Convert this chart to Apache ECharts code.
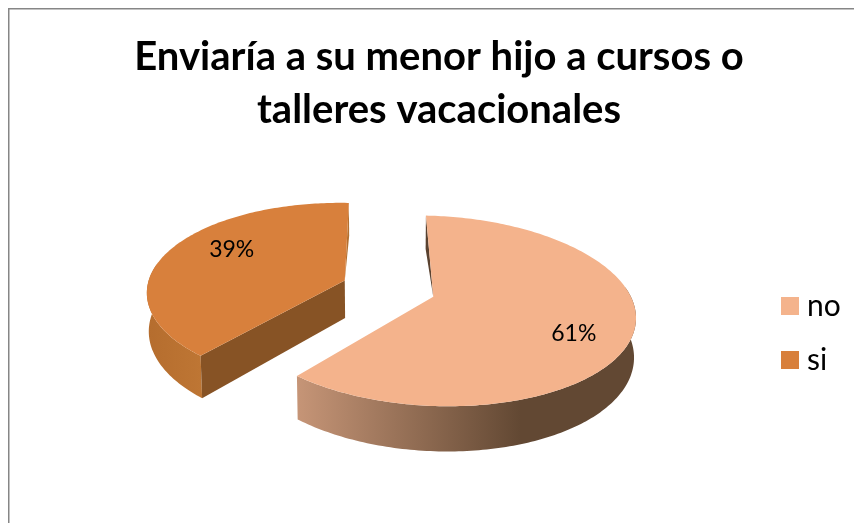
<!DOCTYPE html>
<html><head><meta charset="utf-8">
<style>html,body{margin:0;padding:0;background:#fff}#c{width:854px;height:523px}</style>
<script src="https://cdn.jsdelivr.net/npm/echarts@6/dist/echarts.min.js"></script>
</head><body><div id="c"></div>
<script>
const titleLines = ['Enviaría a su menor hijo a cursos o', 'talleres vacacionales'];
const categories = ['no', 'si'];
const values = [61, 39];

const topColors = ['#F4B38C', '#D8803C'];
const total = values.reduce((a, b) => a + b, 0);
const V = {cx: 388.5, cy: 288.5, R: 197, A: 91, p: 0.148, depth: 38, startDeg: -0.5, explode: 0.238, tilt: 4};
const labelSpots = [{deg: 118.1, r: 0.744}, {deg: 298.2, r: 0.703}];
const sides = [
  {outer: [[0, '#C69577'], [0.66, '#624833'], [1, '#624833']], sliver: '#5A4230', sliverAtEnd: false, front: null},
  {outer: [[0, '#B56D2E'], [1, '#BE7634']], sliver: '#B5702F', sliverAtEnd: true, front: '#875325'}
];

function proj(u, v, drop) {
  const s = 1 / (1 + V.p * v);
  const shrink = drop ? 0.992 : 1;
  return [V.cx + V.R * u * s * shrink, V.cy - V.A * v * s + V.tilt * u + (drop ? V.depth * s : 0)];
}
function sliceGeom(i) {
  let a0 = V.startDeg;
  for (let k = 0; k < i; k++) a0 += values[k] / total * 360;
  const a1 = a0 + values[i] / total * 360;
  const mid = (a0 + a1) / 2 * Math.PI / 180;
  const ou = Math.sin(mid) * V.explode, ov = Math.cos(mid) * V.explode;
  const at = (deg, r, drop) => {
    const t = deg * Math.PI / 180;
    return proj(ou + r * Math.sin(t), ov + r * Math.cos(t), drop);
  };
  return {a0, a1, at};
}
function gradient(stops) {
  return new echarts.graphic.LinearGradient(0, 0, 1, 0, stops.map(s => ({offset: s[0], color: s[1]})));
}
function renderSlice(i) {
  const g = sliceGeom(i), kids = [], cfg = sides[i];
  const rim = [], rimBack = [], topFace = [g.at(0, 0, false)];
  const angles = [];
  for (let d = g.a0; d < g.a1; d += 1) angles.push(d);
  angles.push(g.a1);
  angles.forEach(d => {
    topFace.push(g.at(d, 1, false));
    if (Math.cos(d * Math.PI / 180) < 0.15) {
      rim.push(g.at(d, 1, false));
      rimBack.unshift(g.at(d, 1, true));
    }
  });
  kids.push({type: 'polygon', shape: {points: rim.concat(rimBack)},
    style: {fill: gradient(cfg.outer)}});
  const sliverDeg = cfg.sliverAtEnd ? g.a1 : g.a0;
  kids.push({type: 'polygon', shape: {points: [g.at(0, 0, false), g.at(sliverDeg, 1, false), g.at(sliverDeg, 1, true)]},
    style: {fill: cfg.sliver}});
  if (cfg.front) {
    const frontDeg = cfg.sliverAtEnd ? g.a0 : g.a1;
    kids.push({type: 'polygon', shape: {points: [g.at(0, 0, false), g.at(0, 0, true), g.at(frontDeg, 1, true), g.at(frontDeg, 1, false)]},
      style: {fill: cfg.front}});
  }
  kids.push({type: 'polygon', shape: {points: topFace}, style: {fill: topColors[i]}});
  const lp = g.at(labelSpots[i].deg, labelSpots[i].r, false);
  kids.push({type: 'text', x: lp[0], y: lp[1], style: {
    text: Math.round(values[i] / total * 100) + '%', fill: '#000',
    font: '23px Lato', align: 'center', verticalAlign: 'middle'}});
  return {type: 'group', children: kids};
}

const chart = echarts.init(document.getElementById('c'), null, {renderer: 'canvas'});
chart.setOption({
  animation: false,
  backgroundColor: '#fff',
  title: {text: titleLines.join('\n'), left: 434, top: 26, textAlign: 'center',
    textStyle: {fontFamily: 'Lato', fontWeight: 'bold', fontSize: 40, lineHeight: 53, color: '#000'}},
  legend: {orient: 'vertical', left: 776, top: 286, icon: 'rect', itemWidth: 18, itemHeight: 18, itemGap: 24,
    data: categories, textStyle: {fontFamily: 'Lato', fontSize: 30, color: '#000', padding: [0, 0, 0, 3]}},
  graphic: [{type: 'rect', silent: true, z: -1, shape: {x: 8.75, y: 8.75, width: 1000, height: 800},
    style: {fill: 'none', stroke: '#868686', lineWidth: 1.5}}],
  series: categories.map((name, i) => ({
    type: 'custom', name, coordinateSystem: 'none', data: [values[i]],
    itemStyle: {color: topColors[i]},
    renderItem: () => renderSlice(i)
  }))
});
</script></body></html>
